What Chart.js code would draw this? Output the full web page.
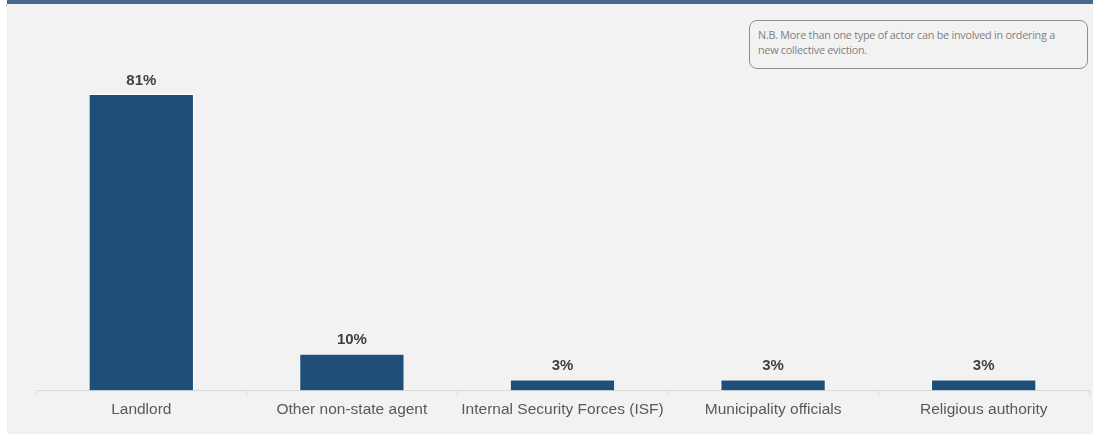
<!DOCTYPE html>
<html>
<head>
<meta charset="UTF-8">
<title>Actors ordering collective evictions</title>
<script src="https://cdn.jsdelivr.net/npm/chart.js"></script>
<style>
    body { margin: 0; background: #ffffff; }
    #wrap { position: absolute; left: 7px; top: 0; width: 1086px; height: 434px; background: #f2f2f2; }
    #banner { position: absolute; left: 7px; top: 0; width: 1086px; height: 4px; background: #48698d; }
    #dot { position: absolute; left: 6px; top: 5px; width: 1px; height: 1px; background: #48698d; }
    #note {
        position: absolute; left: 749px; top: 20px; width: 312px; height: 34px;
        padding: 6px 17px 7px 8px;
        border: 1px solid #8c8c8c; border-radius: 8px; background: #f2f2f2;
        font-family: "Open Sans", sans-serif; font-size: 10.8px; line-height: 15px; color: #7f7f7f;
        letter-spacing: -0.25px;
    }
    canvas { position: absolute; left: 0; top: 0; }
</style>
</head>
<body>
<div id="wrap"></div>
<div id="banner"></div>
<div id="dot"></div>
<canvas id="chart" width="1093" height="434"></canvas>
<div id="note">N.B. More than one type of actor can be involved in ordering a new collective eviction.</div>
<script>
    // data
    const categories = ['Landlord', 'Other non-state agent', 'Internal Security Forces (ISF)', 'Municipality officials', 'Religious authority'];
    const shares = [81, 10, 3, 3, 3];

    // draws the % value above every bar
    const valueLabels = {
        id: 'valueLabels',
        afterDatasetsDraw(chart) {
            const ctx = chart.ctx;
            const meta = chart.getDatasetMeta(0);
            ctx.save();
            ctx.font = 'bold 15px "Liberation Sans", Arial, sans-serif';
            ctx.fillStyle = '#404040';
            ctx.textAlign = 'center';
            ctx.textBaseline = 'bottom';
            meta.data.forEach((bar, i) => {
                ctx.fillText(shares[i] + '%', bar.x, bar.y - 6);
            });
            ctx.restore();
        }
    };

    new Chart(document.getElementById('chart').getContext('2d'), {
        type: 'bar',
        data: {
            labels: categories,
            datasets: [{
                data: shares,
                backgroundColor: '#1f4e79',
                borderColor: '#ffffff',
                borderWidth: 1,
                barPercentage: 0.5,
                categoryPercentage: 1
            }]
        },
        options: {
            responsive: false,
            animation: false,
            layout: { padding: { left: 36, right: 4, top: 61, bottom: 10 } },
            plugins: {
                legend: { display: false },
                title: { display: false },
                tooltip: { enabled: false }
            },
            scales: {
                x: {
                    grid: {
                        offset: true,
                        drawOnChartArea: false,
                        color: '#d9d9d9',
                        tickLength: 5
                    },
                    border: { color: '#d9d9d9' },
                    ticks: {
                        color: '#595959',
                        padding: 5,
                        font: { family: '"Liberation Sans", Arial, sans-serif', size: 15.5 },
                        maxRotation: 0
                    }
                },
                y: {
                    display: false,
                    min: 0,
                    max: 90
                }
            }
        },
        plugins: [valueLabels]
    });
</script>
</body>
</html>
